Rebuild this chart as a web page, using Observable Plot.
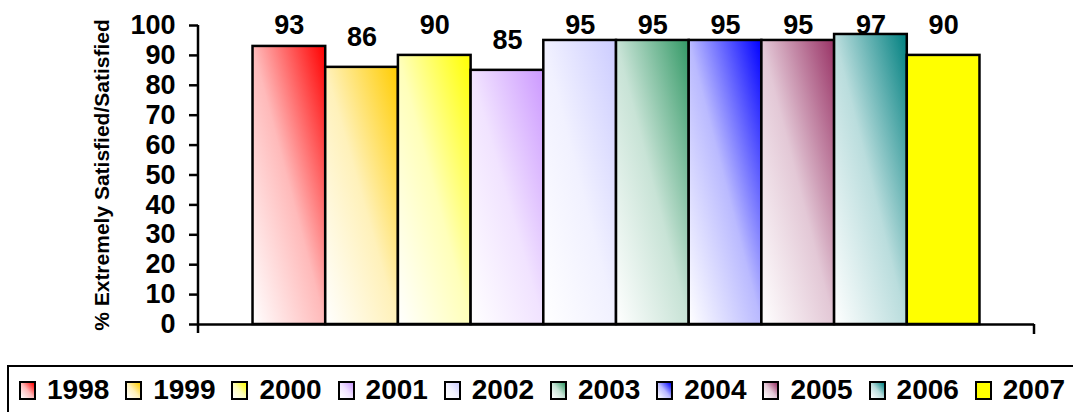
<!DOCTYPE html>
<html>
<head>
<meta charset="utf-8">
<script src="https://cdn.jsdelivr.net/npm/d3@7"></script>
<script src="https://cdn.jsdelivr.net/npm/@observablehq/plot@0.6"></script>
<style>
  html, body { margin: 0; padding: 0; background: #fff; overflow: hidden; }
  body { width: 1073px; height: 412px; position: relative; font-family: "Liberation Sans", Arial, sans-serif; }
  #chart { position: absolute; left: 0; top: 0; }
  #legend { position: absolute; left: 7px; top: 365px; width: 1090px; height: 70px; border: 2.5px solid #000; box-sizing: border-box; }
  .sw { position: absolute; width: 17px; height: 19px; border: 2.5px solid #000; box-sizing: border-box; }
  .lb { position: absolute; font-weight: bold; font-size: 28px; line-height: 28px; color: #000; white-space: nowrap; }
</style>
</head>
<body>
<div id="chart"></div>
<div id="legend"></div>
<script>
const years = ["1998", "1999", "2000", "2001", "2002", "2003", "2004", "2005", "2006", "2007"];
const values = [93, 86, 90, 85, 95, 95, 95, 95, 97, 90];
const colors = ["#FF0000", "#FFCC00", "#FFFF00", "#CC99FF", "#CCCCFF", "#339966", "#0000FF", "#993366", "#008080", "#FFFF00"];
const solid = [false, false, false, false, false, false, false, false, false, true];
const yTicks = [0, 10, 20, 30, 40, 50, 60, 70, 80, 90, 100];
const yTitle = "% Extremely Satisfied/Satisfied";

const data = years.map((y, i) => ({year: y, value: values[i]}));
const fills = years.map((y, i) => solid[i] ? colors[i] : `url(#grad${y})`);

const W = 1073, H = 345;
const mL = 198, mR = 39, mT = 25, mB = 21;

const axisExtras = (index, scales, values, dims) => {
  const g = d3.create("svg:g").attr("stroke", "#000").attr("stroke-width", 2.5).attr("fill", "none");
  const x0 = dims.marginLeft, x1 = dims.width - dims.marginRight;
  const yb = dims.height - dims.marginBottom, yt = dims.marginTop;
  g.append("line").attr("x1", x0).attr("x2", x0).attr("y1", yt).attr("y2", yb + 9);
  g.append("line").attr("x1", x1).attr("x2", x1).attr("y1", yb).attr("y2", yb + 10);
  return g.node();
};

const chart = Plot.plot({
  width: W, height: H,
  marginLeft: mL, marginRight: mR, marginTop: mT, marginBottom: mB,
  style: {fontFamily: "'Liberation Sans', Arial, sans-serif", background: "transparent", overflow: "visible"},
  x: {domain: years, paddingInner: 0, paddingOuter: 0.75, round: false, axis: null},
  y: {domain: [0, 100], axis: null},
  color: {domain: years, range: fills},
  marks: [
    Plot.barY(data, {x: "year", y: "value", fill: "year", stroke: "#000", strokeWidth: 2.5}),
    Plot.ruleY([0], {stroke: "#000", strokeWidth: 2.5}),
    axisExtras,
    Plot.axisY({ticks: yTicks, tickSize: 9, tickPadding: 14, tickFormat: d => d, fontSize: 27, fontWeight: "bold", stroke: "#000", strokeWidth: 2.5, label: null, fill: "#000"}),
    Plot.text(data, {x: "year", y: d => Math.min(d.value + 10, 100), text: d => String(d.value), fontSize: 27, fontWeight: "bold", fill: "#000"}),
    Plot.text([yTitle], {text: d => d, frameAnchor: "left", textAnchor: "middle", lineAnchor: "middle", rotate: -90, dx: -96, fontSize: 21, fontWeight: "bold", fill: "#000"})
  ]
});

// gradient definitions (diagonal: white bottom-left -> colour top-right)
const svg = d3.select(chart);
const defs = svg.insert("defs", ":first-child");
years.forEach((y, i) => {
  if (solid[i]) return;
  const lg = defs.append("linearGradient").attr("id", `grad${y}`)
    .attr("x1", 0).attr("y1", 1).attr("x2", 1).attr("y2", 0);
  lg.append("stop").attr("offset", "0%").attr("stop-color", "#ffffff");
  lg.append("stop").attr("offset", "50%").attr("stop-color", d3.interpolateRgb("#ffffff", colors[i])(0.27));
  lg.append("stop").attr("offset", "100%").attr("stop-color", colors[i]);
});
document.getElementById("chart").appendChild(chart);

// legend
const legend = d3.select("#legend");
years.forEach((y, i) => {
  const left = 10 + i * 106.2; // relative to legend box (box at x=7)
  const mid = d3.interpolateRgb("#ffffff", colors[i])(0.27);
  legend.append("div").attr("class", "sw")
    .style("left", `${left}px`).style("top", "14px")
    .style("background", solid[i] ? colors[i] : `linear-gradient(to top right, #ffffff, ${mid}, ${colors[i]})`);
  legend.append("div").attr("class", "lb")
    .style("left", `${left + 28}px`).style("top", "9px")
    .text(y);
});
</script>
</body>
</html>
